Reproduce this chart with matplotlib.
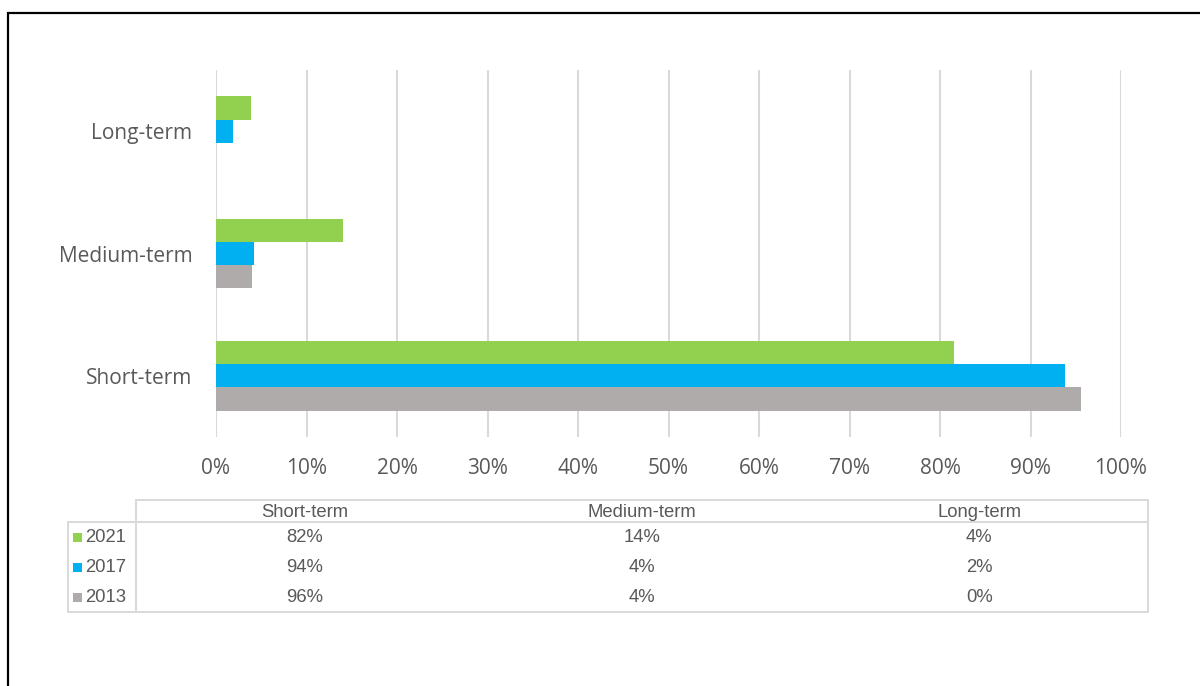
import matplotlib
matplotlib.use("Agg")
import matplotlib.pyplot as plt
from matplotlib.patches import Rectangle
from matplotlib.lines import Line2D
import numpy as np

# Share of responses by horizon, per survey year (%)
categories = ["Short-term", "Medium-term", "Long-term"]
years = ["2021", "2017", "2013"]
values = {
    "2021": [81.5, 14.0, 3.9],
    "2017": [93.8, 4.2, 1.9],
    "2013": [95.6, 4.0, 0.0],
}
colors = {"2021": "#92D050", "2017": "#00B0F0", "2013": "#AFABAB"}
xticks = [0, 10, 20, 30, 40, 50, 60, 70, 80, 90, 100]

W, H = 1200, 686
fig = plt.figure(figsize=(W / 100, H / 100), dpi=100)
fig.patch.set_facecolor("white")

label_font = ["Open Sans", "DejaVu Sans"]
table_font = ["Liberation Sans", "DejaVu Sans"]
text_grey = "#595959"
grid_grey = "#D9D9D9"

# Bar chart axes
ax = fig.add_axes([216 / W, 1 - 437 / H, (1121 - 216) / W, (437 - 70) / H])
y = np.arange(len(categories))
bar_h = 0.19
offsets = {"2021": bar_h, "2017": 0.0, "2013": -bar_h}
for yr in years:
    ax.barh(y + offsets[yr], values[yr], height=bar_h, color=colors[yr],
            edgecolor="none", zorder=3)

ax.set_xlim(0, 100)
ax.set_ylim(-0.5, len(categories) - 0.5)
ax.set_xticks(xticks)
ax.set_xticklabels([f"{t}%" for t in xticks], fontfamily=label_font,
                   fontsize=15, color=text_grey)
ax.set_yticks(y)
ax.set_yticklabels(categories, fontfamily=label_font, fontsize=15,
                   color=text_grey)
ax.tick_params(axis="x", length=0, pad=15)
ax.tick_params(axis="y", length=0, pad=17)
ax.grid(axis="x", color=grid_grey, linewidth=1.5, zorder=0)
ax.grid(axis="y", visible=False)
for s in ax.spines.values():
    s.set_visible(False)

# Data table beneath the chart, drawn on a pixel-space overlay
tax = fig.add_axes([0, 0, 1, 1], zorder=-1)
tax.set_xlim(0, W)
tax.set_ylim(H, 0)
tax.axis("off")

x_left, x_mid, x_right = 68, 136, 1148
y_top, y_head, y_bot = 500, 522, 612
line_kw = dict(color=grid_grey, linewidth=1.4)
tax.add_line(Line2D([x_mid, x_right], [y_top, y_top], **line_kw))
tax.add_line(Line2D([x_left, x_right], [y_head, y_head], **line_kw))
tax.add_line(Line2D([x_left, x_right], [y_bot, y_bot], **line_kw))
tax.add_line(Line2D([x_left, x_left], [y_head, y_bot], **line_kw))
tax.add_line(Line2D([x_mid, x_mid], [y_top, y_bot], **line_kw))
tax.add_line(Line2D([x_right, x_right], [y_top, y_bot], **line_kw))

tsize = 13.3
col_w = (x_right - x_mid) / len(categories)
for j, cat in enumerate(categories):
    tax.text(x_mid + col_w * (j + 0.5), (y_top + y_head) / 2 + 6, cat,
             ha="center", va="baseline", fontsize=tsize, color=text_grey,
             fontfamily=table_font)

row_h = (y_bot - y_head) / len(years)
for i, yr in enumerate(years):
    yc = y_head + row_h * (i + 0.5)
    tax.add_patch(Rectangle((73, yc - 4.5), 9, 9, color=colors[yr],
                            linewidth=0))
    tax.text(85, yc, yr, ha="left", va="center", fontsize=tsize,
             color=text_grey, fontfamily=table_font)
    for j in range(len(categories)):
        tax.text(x_mid + col_w * (j + 0.5), yc, f"{values[yr][j]:.0f}%",
                 ha="center", va="center", fontsize=tsize, color=text_grey,
                 fontfamily=table_font)

# Frame around the figure
fig.add_artist(Rectangle((8 / W, -0.05), 1.1, 1 - 13 / H + 0.05,
                         transform=fig.transFigure, fill=False,
                         edgecolor="black", linewidth=1.6, zorder=10))

fig.savefig("out.png", dpi=100, facecolor="white")
